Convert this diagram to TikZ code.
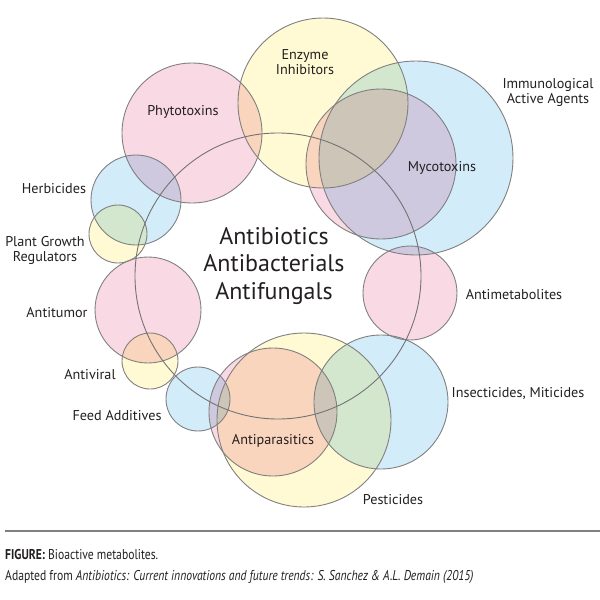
\documentclass[tikz,border=0pt]{standalone}
\usepackage{fontspec}
\setmainfont{PT Sans}
\newfontfamily\capfont[FakeStretch=0.82]{PT Sans}
\usetikzlibrary{positioning}

\definecolor{pinkc}{RGB}{249,218,228}
\definecolor{yellowc}{RGB}{255,250,212}
\definecolor{bluec}{RGB}{211,236,250}
\definecolor{ringc}{RGB}{128,128,128}
\definecolor{inkc}{RGB}{35,31,32}

\tikzstyle{ring} = [draw=ringc, line width=0.9pt]
\tikzstyle{lbl} = [text=inkc, font=\fontsize{14.2}{15}\selectfont, align=center, inner sep=0pt]
\tikzstyle{biglbl} = [text=inkc, font=\fontsize{24}{27.5}\selectfont, align=center, inner sep=0pt]
\tikzstyle{caplbl} = [text=inkc, font=\capfont\fontsize{14.2}{15}\selectfont, anchor=west, inner sep=0pt]

\begin{document}
\begin{tikzpicture}[x=1pt,y=-1pt]
\useasboundingbox (0,0) rectangle (600,600);
    % Fill the circles
    \foreach \cx/\cy/\r/\col in {
        192/133/70/pinkc, 323/103/85/yellowc, 416/158/97/bluec,
        381/164/75/pinkc, 136/200/45/bluec, 118/234/29/yellowc,
        148/310/53/pinkc, 150/361/28/yellowc, 198/399/32/bluec,
        304/420/87/yellowc, 273/412/64/pinkc, 381/402/67/bluec,
        410/293/47/pinkc}
        \fill[\col, blend mode=multiply] (\cx,\cy) circle (\r);
    % Outline them
    \foreach \cx/\cy/\r in {
        192/133/70, 323/103/85, 416/158/97, 381/164/75, 136/200/45,
        118/234/29, 148/310/53, 150/361/28, 198/399/32, 304/420/87,
        273/412/64, 381/402/67, 410/293/47}
        \draw[ring] (\cx,\cy) circle (\r);
    \draw[ring, draw=gray!90!black] (278,276) circle (143);

    % Labels
    \node[biglbl] (antibiotics) at (274,266) {Antibiotics\\Antibacterials\\Antifungals};
    \node[lbl] (phytotoxins) at (183,112) {Phytotoxins};
    \node[lbl] (enzyme) at (305,62) {Enzyme\\Inhibitors};
    \node[lbl] (immuno) at (548,92) {Immunological\\Active Agents};
    \node[lbl] (mycotoxins) at (442,168) {Mycotoxins};
    \node[lbl] (herbicides) at (54,189) {Herbicides};
    \node[lbl] (plantgrowth) at (45,250) {Plant Growth\\Regulators};
    \node[lbl] (antitumor) at (57,313) {Antitumor};
    \node[lbl] (antiviral) at (90,375) {Antiviral};
    \node[lbl] (feed) at (117,416) {Feed Additives};
    \node[lbl] (antiparasitics) at (273,441) {Antiparasitics};
    \node[lbl] (insecticides) at (518,394) {Insecticides, Miticides};
    \node[lbl] (pesticides) at (393,500) {Pesticides};
    \node[lbl] (antimetabolites) at (514,295) {Antimetabolites};

    % Caption
    \draw[line width=2pt, draw=gray] (5,531) coordinate (rule_l) -- (600,531) coordinate (rule_r);
    \node[caplbl] (figcap) at (5,555) {\textbf{FIGURE:} Bioactive metabolites.};
    \node[caplbl] (source) at (5,577) {Adapted from \textit{Antibiotics: Current innovations and future trends: S. Sanchez \& A.L. Demain (2015)}};
\end{tikzpicture}
\end{document}
